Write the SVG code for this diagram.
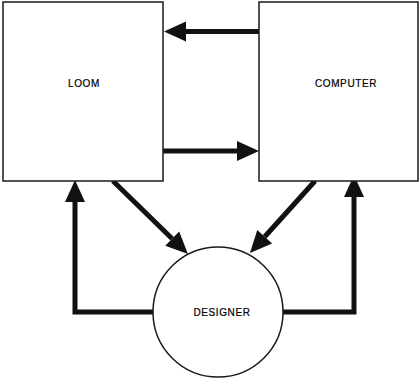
<svg xmlns="http://www.w3.org/2000/svg" width="420" height="380" viewBox="0 0 420 380">
  <style>
    .box { fill: #fff; stroke: #1a1a1a; stroke-width: 1.5; }
    .label { font-family: "Liberation Sans", Arial, sans-serif; font-size: 10px; fill: #000; stroke: #000; stroke-width: 0.2; text-anchor: middle; dominant-baseline: central; letter-spacing: 0.6px; }
    .link { fill: none; stroke: #111; stroke-width: 5; stroke-linejoin: miter; marker-end: url(#head); }
  </style>
  <defs>
    <marker id="head" markerUnits="userSpaceOnUse" markerWidth="22" markerHeight="20" refX="0" refY="10" orient="auto" overflow="visible">
      <path d="M0,0 L22,10 L0,20 z" fill="#111"/>
    </marker>
  </defs>
  <rect width="420" height="380" fill="#fff"/>

  <g id="connectors">
    <path class="link" d="M259,31.5 H186"/>
    <path class="link" d="M163,151 H237"/>
    <path class="link" d="M113,181 L172.2,238.7"/>
    <path class="link" d="M315,181 L264.7,236.7"/>
    <path class="link" d="M153,312 H75 V202"/>
    <path class="link" d="M283,312 H354 V197"/>
  </g>

  <g id="loom">
    <rect class="box" x="3" y="2" width="160" height="179"/>
    <text class="label" x="84" y="83">LOOM</text>
  </g>

  <g id="computer">
    <rect class="box" x="259" y="2" width="159" height="179"/>
    <text class="label" x="346" y="83">COMPUTER</text>
  </g>

  <g id="designer">
    <circle class="box" cx="218" cy="312" r="65"/>
    <text class="label" x="222" y="312">DESIGNER</text>
  </g>
</svg>
